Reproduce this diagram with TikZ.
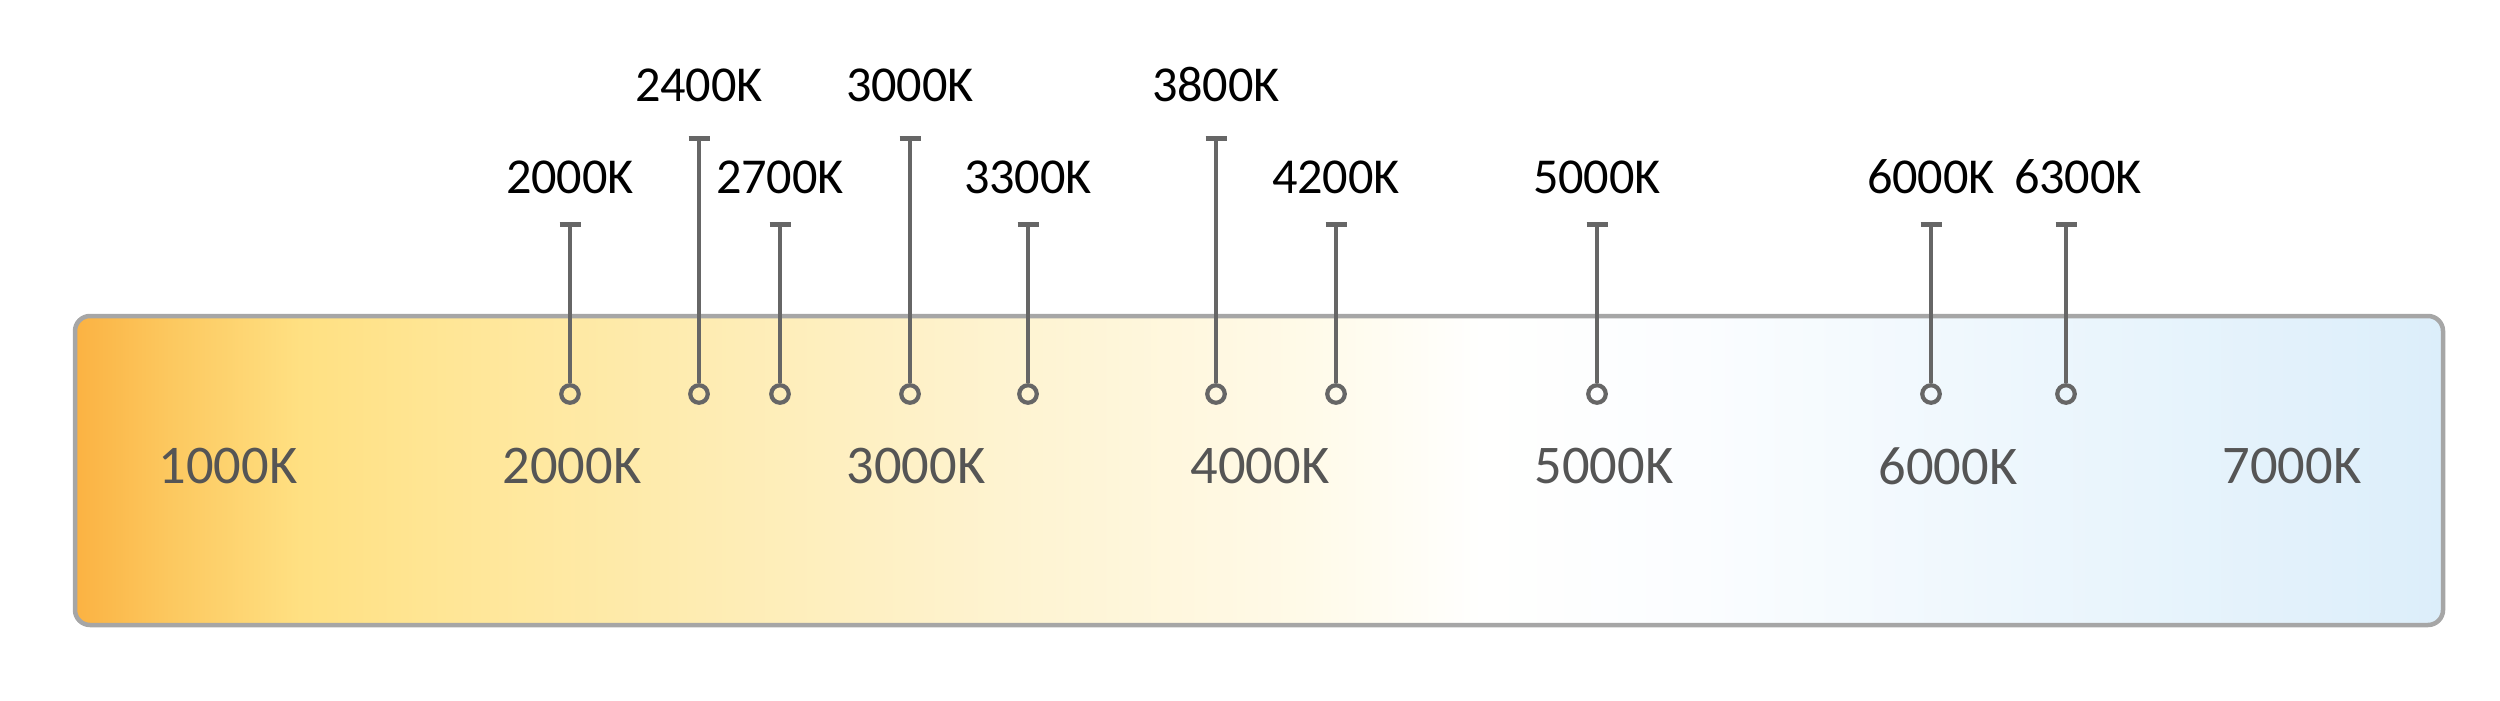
\documentclass[tikz,border=0pt]{standalone}
\usepackage{fontspec}
\setmainfont{Carlito}
\usetikzlibrary{positioning,arrows.meta}
\definecolor{rim}{RGB}{166,166,166}
\definecolor{pinc}{RGB}{102,102,102}
\definecolor{scaletxt}{RGB}{85,85,85}
\definecolor{kA}{RGB}{251,178,66}
\definecolor{kB}{RGB}{252,200,95}
\definecolor{kC}{RGB}{255,224,130}
\definecolor{kD}{RGB}{255,230,150}
\definecolor{kE}{RGB}{254,236,178}
\definecolor{kF}{RGB}{254,243,208}
\definecolor{kG}{RGB}{255,250,232}
\definecolor{kH}{RGB}{255,255,254}
\definecolor{kI}{RGB}{251,253,255}
\definecolor{kJ}{RGB}{238,247,253}
\definecolor{kK}{RGB}{220,238,250}
% warm -> cold, path box sits in 25bp..75bp
\pgfdeclarehorizontalshading{kelvin}{100bp}{%
  color(0bp)=(kA); color(25bp)=(kA); color(27.0bp)=(kB); color(29.75bp)=(kC);
  color(32.9bp)=(kD); color(38.2bp)=(kE); color(44.5bp)=(kF); color(50.9bp)=(kG);
  color(54.7bp)=(kH); color(59.3bp)=(kI); color(65.6bp)=(kJ); color(75bp)=(kK);
  color(100bp)=(kK)}

\begin{document}
\begin{tikzpicture}[
  x=0.1mm, y=0.1mm,
  kbar/.style={rounded corners=1.5mm, draw=rim, line width=0.45mm, shading=kelvin,
    minimum width=236.8mm, minimum height=30.9mm, inner sep=0pt},
  dot/.style={circle, draw=pinc, line width=0.42mm, minimum size=1.75mm, inner sep=0pt},
  stem/.style={draw=pinc, line width=0.45mm, -{Bar[width=2.1mm]}},
  toplab/.style={inner sep=0pt, text=black, font=\fontsize{14.3}{17}\selectfont},
  scalelab/.style={inner sep=0pt, text=scaletxt, font=\fontsize{15.5}{18}\selectfont},
]
\useasboundingbox (0,0) rectangle (2500,700);

% ---- the colour bar ----
\node[kbar] (bar) at (1259,229.5) {};

% ---- scale marks inside the bar ----
\node[scalelab] (s1000) at (228,233.5) {1000K};
\node[scalelab] (s2000) at (572,233.5) {2000K};
\node[scalelab] (s3000) at (916,233.5) {3000K};
\node[scalelab] (s4000) at (1260,233.5) {4000K};
\node[scalelab] (s5000) at (1604,233.5) {5000K};
\node[scalelab] (s6000) at (1948,233.5) {6000K};
\node[scalelab] (s7000) at (2292,233.5) {7000K};

% ---- pins: dot on the bar, T on top ----
\node[dot] (d2000) at (570,306) {};
\node[dot] (d2400) at (699,306) {};
\node[dot] (d2700) at (780,306) {};
\node[dot] (d3000) at (910,306) {};
\node[dot] (d3300) at (1028,306) {};
\node[dot] (d3800) at (1216,306) {};
\node[dot] (d4200) at (1336,306) {};
\node[dot] (d5000) at (1597,306) {};
\node[dot] (d6000) at (1931,306) {};
\node[dot] (d6300) at (2066,306) {};

\coordinate (t2000) at (570,478);
\coordinate (t2400) at (699,564);
\coordinate (t2700) at (780,478);
\coordinate (t3000) at (910,564);
\coordinate (t3300) at (1028,478);
\coordinate (t3800) at (1216,564);
\coordinate (t4200) at (1336,478);
\coordinate (t5000) at (1597,478);
\coordinate (t6000) at (1931,478);
\coordinate (t6300) at (2066,478);

\draw[stem] (d2000.north) -- (t2000);
\draw[stem] (d2400.north) -- (t2400);
\draw[stem] (d2700.north) -- (t2700);
\draw[stem] (d3000.north) -- (t3000);
\draw[stem] (d3300.north) -- (t3300);
\draw[stem] (d3800.north) -- (t3800);
\draw[stem] (d4200.north) -- (t4200);
\draw[stem] (d5000.north) -- (t5000);
\draw[stem] (d6000.north) -- (t6000);
\draw[stem] (d6300.north) -- (t6300);

% ---- pin labels ----
\node[toplab, above=2.7mm of t2000] (l2000) {2000K};
\node[toplab, above=3.3mm of t2400] (l2400) {2400K};
\node[toplab, above=2.7mm of t2700] (l2700) {2700K};
\node[toplab, above=3.3mm of t3000] (l3000) {3000K};
\node[toplab, above=2.7mm of t3300] (l3300) {3300K};
\node[toplab, above=3.3mm of t3800] (l3800) {3800K};
\node[toplab, above=2.7mm of t4200] (l4200) {4200K};
\node[toplab, above=2.7mm of t5000] (l5000) {5000K};
\node[toplab, above=2.7mm of t6000] (l6000) {6000K};
\node[toplab, above=2.7mm of t6300, xshift=1.2mm] (l6300) {6300K};

\end{tikzpicture}
\end{document}
